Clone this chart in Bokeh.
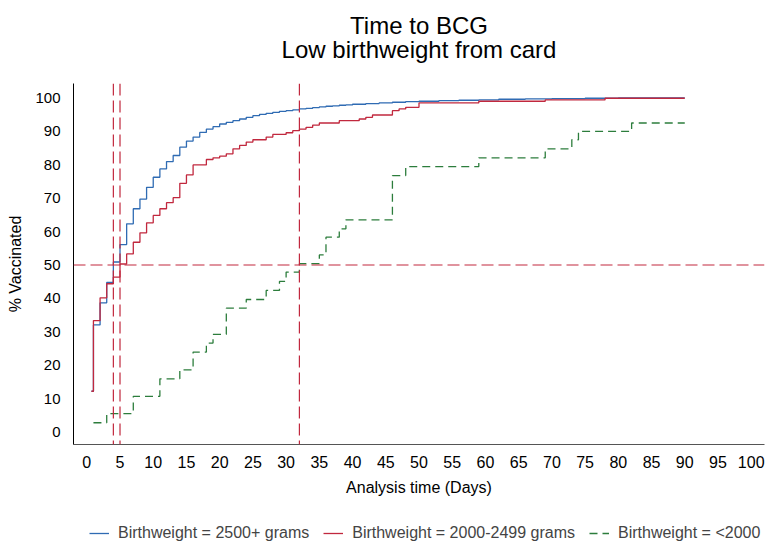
from bokeh.plotting import figure
from bokeh.layouts import column
from bokeh.models import Range1d, Span, Title, Legend, LegendItem, FixedTicker
from bokeh.embed import file_html
from bokeh.resources import INLINE

FONT = "Liberation Sans"

# ---- data ----
t_2500 = [0.7, 1, 2, 3, 4, 5, 6, 7, 8, 9, 10, 11, 12, 13, 14, 15, 16, 17, 18, 19, 20,
          21, 22, 23, 24, 25, 26, 27, 28, 29, 30, 31, 32, 33, 34, 35, 36, 37, 38, 39, 40,
          42, 44, 46, 48, 50, 53, 56, 59, 62, 66, 70, 75, 80, 90]
v_2500 = [12.3, 32.1, 38.7, 44.8, 50.9, 56.1, 62.3, 66.8, 69.7, 73.2, 76.2, 78.7, 80.9, 82.7,
          85.2, 87.0, 88.2, 89.6, 90.6, 91.3, 92.1, 92.6, 93.1, 93.6, 94.1, 94.6, 95.0, 95.3,
          95.6, 95.9, 96.1, 96.3, 96.6, 96.8, 97.0, 97.2, 97.4, 97.5, 97.7, 97.8, 98.0,
          98.2, 98.4, 98.6, 98.8, 98.9, 99.1, 99.2, 99.3, 99.5, 99.6, 99.7, 99.8, 99.9, 99.9]

t_2000 = [0.7, 1, 2, 3, 4, 5, 6, 7, 8, 9, 10, 11, 12, 13, 14, 15, 16, 18, 19, 20, 21, 22,
          23, 24, 25, 27, 28, 30, 31, 32, 33, 34, 35, 38, 41, 42, 43, 46, 47, 48, 50, 59,
          69, 78, 90]
v_2000 = [12.3, 33.4, 40.2, 44.4, 46.4, 50.3, 53.3, 56.8, 59.6, 62.6, 64.8, 66.8, 68.6, 70.1,
          74.4, 76.9, 79.9, 81.5, 82.0, 82.5, 83.2, 84.7, 85.7, 86.7, 87.4, 88.2, 89.0,
          89.5, 90.1, 90.6, 91.1, 91.8, 92.4, 93.1, 93.6, 94.1, 94.8, 96.1, 96.6, 97.1,
          98.4, 98.9, 99.3, 99.8, 99.8]

t_lt2000 = [1, 3, 7, 11, 14, 16, 18, 19, 21, 24, 27, 29, 30, 32, 35, 36, 38, 39, 46, 48,
            59, 69, 73, 74, 82, 90]
v_lt2000 = [2.9, 5.6, 10.8, 16.0, 18.7, 24.0, 26.7, 29.3, 37.1, 39.7, 42.4, 45.1, 47.9,
            50.4, 53.0, 58.3, 60.8, 63.5, 76.7, 79.4, 82.0, 84.7, 87.4, 89.9, 92.4, 92.4]

median_days = [4, 5, 32]
half_line = 50

x_ticks = list(range(0, 101, 5))
y_ticks = list(range(0, 101, 10))

title_lines = ["Time to BCG", "Low birthweight from card"]
labels = ["Birthweight = 2500+ grams", "Birthweight = 2000-2499 grams", "Birthweight = <2000"]
colors = ["#2f6bb3", "#c1283e", "#2c7d3c"]
series = [(t_2500, v_2500, colors[0], "solid"),
          (t_2000, v_2000, colors[1], "solid"),
          (t_lt2000, v_lt2000, colors[2], "8 5")]

# ---- main figure ----
p = figure(frame_width=691, frame_height=361, output_backend="svg", toolbar_location=None,
           x_range=Range1d(-2, 102), y_range=Range1d(-3.6, 104.2),
           min_border_left=73, min_border_right=3, min_border_top=83, min_border_bottom=78)
p.grid.visible = False
p.outline_line_color = None
p.background_fill_color = "white"
p.border_fill_color = "white"

# titles: spacer (closest to frame), second line, then first line (p.title, farthest)
p.add_layout(Title(text=" ", text_font_size="1px", standoff=20), "above")
p.add_layout(Title(text=title_lines[1], align="center", text_font=FONT,
                   text_font_size="24px", text_font_style="normal", text_color="black",
                   standoff=-5), "above")
p.title.text = title_lines[0]
p.title.align = "center"
p.title.text_font = FONT
p.title.text_font_size = "24px"
p.title.text_font_style = "normal"
p.title.text_color = "black"
p.title.standoff = -5

for ax in (p.xaxis[0], p.yaxis[0]):
    ax.major_tick_out = 0
    ax.major_tick_in = 0
    ax.minor_tick_line_color = None
    ax.major_label_text_font = FONT
    ax.major_label_text_font_size = "16px"
    ax.major_label_text_color = "black"
    ax.axis_label_text_font = FONT
    ax.axis_label_text_font_size = "16px"
    ax.axis_label_text_font_style = "normal"
    ax.axis_label_text_color = "black"

p.xaxis.ticker = FixedTicker(ticks=x_ticks)
p.yaxis.ticker = FixedTicker(ticks=y_ticks)
p.xaxis.axis_label = "Analysis time (Days)"
p.yaxis.axis_label = "% Vaccinated"
p.xaxis.axis_line_color = "#555555"
p.yaxis.axis_line_color = "black"
p.xaxis.major_label_standoff = 11
p.xaxis.axis_label_standoff = 8
p.yaxis.major_label_standoff = 13
p.yaxis.axis_label_standoff = 8
p.yaxis.major_label_text_font_size = "15px"

# reference lines
for d in median_days:
    p.add_layout(Span(location=d, dimension="height", line_color=colors[1],
                      line_dash="12 5", line_width=1.2))
p.add_layout(Span(location=half_line, dimension="width", line_color=colors[1],
                  line_dash="12 5", line_width=1.2))

for t, v, c, dash in series:
    p.step(t, v, mode="after", line_color=c, line_width=1.3, line_dash=dash)

# ---- legend strip (a second figure whose view holds no data, only the legend) ----
lf = figure(width=767, height=21, output_backend="svg", toolbar_location=None,
            x_range=Range1d(1000, 1001), y_range=Range1d(1000, 1001),
            x_axis_location=None, y_axis_location=None,
            min_border_left=0, min_border_right=0, min_border_top=0, min_border_bottom=0)
lf.grid.visible = False
lf.outline_line_color = None

items = []
for (t, v, c, dash), lab in zip(series, labels):
    r = lf.step(t, v, mode="after", line_color=c, line_width=1.3, line_dash=dash)
    items.append(LegendItem(label=lab, renderers=[r]))

legend = Legend(items=items, orientation="horizontal", location=(16, 0),
                label_text_font=FONT, label_text_font_size="16px",
                border_line_color=None, background_fill_alpha=0,
                glyph_width=20, label_standoff=9, spacing=14,
                padding=0, margin=0)
lf.add_layout(legend, "center")

layout = column(p, lf, spacing=0)
open("out.html", "w").write(file_html(layout, INLINE))
